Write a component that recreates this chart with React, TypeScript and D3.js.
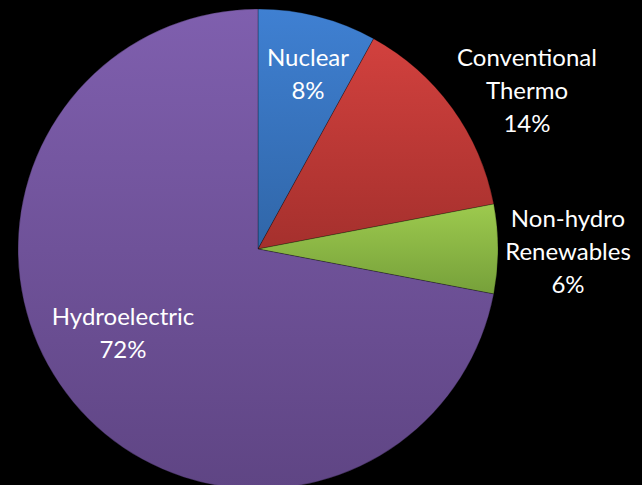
import React from "react";
import * as d3 from "d3";

const categories = ["Nuclear", "Conventional Thermo", "Non-hydro Renewables", "Hydroelectric"];
const shares = [8, 14, 6, 72];
// Label lines per category (wrapped as shown)
const labelLines = [["Nuclear", "8%"], ["Conventional", "Thermo", "14%"], ["Non-hydro", "Renewables", "6%"], ["Hydroelectric", "72%"]];
const topColors = ["#3f80d2", "#d2413e", "#9dca4e", "#7f5fae"];
const bottomColors = ["#3066a8", "#a5302d", "#76a03a", "#5f4584"];

const W = 642;
const H = 485;
const cx = 258;
const cy = 249;
const R = 240;
// label anchor positions (center x, first baseline y)
const labelPos: [number, number][] = [[308, 66], [527, 66], [568, 227], [123, 325]];
const lineGap = 33;

export default function App() {
  const pie = d3.pie<number>().sort(null).value((d) => d);
  const arcs = pie(shares);
  const arc = d3.arc<d3.PieArcDatum<number>>().innerRadius(0).outerRadius(R);

  return (
    <svg width={W} height={H} style={{ position: "absolute", left: 0, top: 0, background: "#000" }}>
      <defs>
        {categories.map((c, i) => (
          <linearGradient key={c} id={`g${i}`} x1="0" y1="0" x2="0" y2="1">
            <stop offset="0%" stopColor={topColors[i]} />
            <stop offset="100%" stopColor={bottomColors[i]} />
          </linearGradient>
        ))}
      </defs>
      <rect width={W} height={H} fill="#000" />
      <g transform={`translate(${cx},${cy})`}>
        {arcs.map((a, i) => (
          <path key={categories[i]} d={arc(a) || ""} fill={`url(#g${i})`} stroke="rgba(0,0,0,0.35)" strokeWidth={0.75} />
        ))}
      </g>
      {labelLines.map((lines, i) => (
        <text key={categories[i]} fill="#fff" fontFamily="Lato, 'Open Sans', sans-serif" fontSize={24} textAnchor="middle">
          {lines.map((t, j) => (
            <tspan key={j} x={labelPos[i][0]} y={labelPos[i][1] + j * lineGap}>{t}</tspan>
          ))}
        </text>
      ))}
    </svg>
  );
}
